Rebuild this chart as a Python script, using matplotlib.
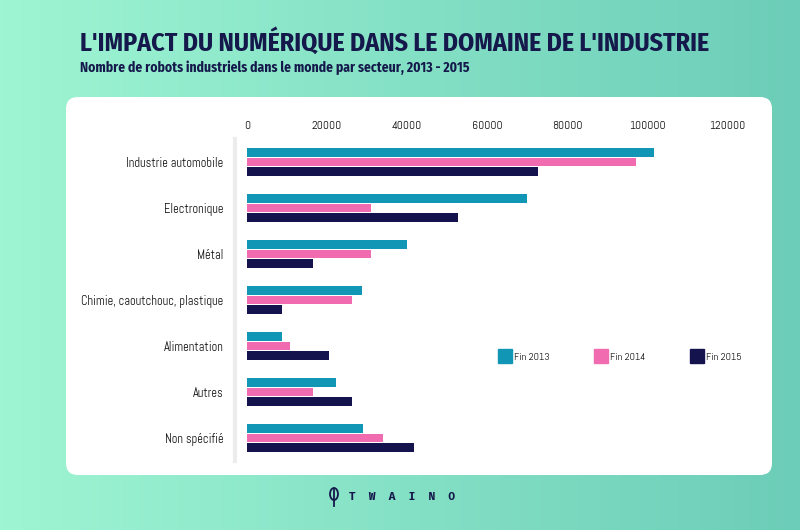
import numpy as np
import matplotlib
matplotlib.use("Agg")
import matplotlib.pyplot as plt
from matplotlib.patches import FancyBboxPatch, Ellipse
from matplotlib.lines import Line2D
from matplotlib import font_manager

categories = ["Industrie automobile", "Electronique", "Métal",
              "Chimie, caoutchouc, plastique", "Alimentation", "Autres",
              "Non spécifié"]
fin2013 = [101700, 70000, 40000, 28700, 8700, 22200, 29000]
fin2014 = [97200, 31000, 31000, 26200, 10700, 16500, 34000]
fin2015 = [72700, 52700, 16500, 8700, 20500, 26200, 41700]
series_labels = ["Fin 2013", "Fin 2014", "Fin 2015"]
xticks = [0, 20000, 40000, 60000, 80000, 100000, 120000]

colors = ["#1296b6", "#f16bb0", "#14134d"]
navy = "#14184a"

names = {f.name for f in font_manager.fontManager.ttflist}
def pick(*cands):
    for c in cands:
        if c in names:
            return c
    return "DejaVu Sans"
title_font = pick("Fira Sans Condensed", "PT Sans Narrow", "Roboto Condensed")
tick_font = pick("Abel", "Dosis", "Lato")
mono_font = pick("Fira Mono", "DejaVu Sans Mono")

fig = plt.figure(figsize=(8, 5.3), dpi=100)

# background gradient
bg = fig.add_axes([0, 0, 1, 1], zorder=-10)
grad = np.linspace(0, 1, 256)[None, :]
c0 = np.array([158, 245, 211]) / 255
c1 = np.array([108, 205, 184]) / 255
img = c0[None, None, :] * (1 - grad[..., None]) + c1[None, None, :] * grad[..., None]
bg.imshow(img, extent=[0, 800, 530, 0], aspect="auto")
bg.set_xlim(0, 800)
bg.set_ylim(530, 0)
bg.axis("off")
panel = FancyBboxPatch((66, 97), 706, 378, boxstyle="round,pad=0,rounding_size=12",
                       facecolor="white", edgecolor="none")
bg.add_patch(panel)

fig.text(80 / 800, 1 - 42 / 530, "L'IMPACT DU NUMÉRIQUE DANS LE DOMAINE DE L'INDUSTRIE",
         fontsize=18.6, fontweight="bold", color=navy, family=title_font, va="center", ha="left")
fig.text(80 / 800, 1 - 68 / 530, "Nombre de robots industriels dans le monde par secteur, 2013 - 2015",
         fontsize=9.8, fontweight="bold", color=navy, family=title_font, va="center", ha="left")

# logo
bg.add_patch(Ellipse((334, 494), 8, 12, facecolor="none", edgecolor=navy, lw=1.3))
bg.plot([334, 334], [490, 506], color=navy, lw=1.3)
fig.text(402 / 800, 1 - 497 / 530, "T  W  A  I  N  O", fontsize=8, color=navy,
         family=mono_font, ha="center", va="center", fontweight="bold")

ax = fig.add_axes([247 / 800, 1 - 461 / 530, 480 / 800, 322 / 530])
for s in ["top", "right", "bottom"]:
    ax.spines[s].set_visible(False)
ax.spines["left"].set_position(("outward", 9))
ax.spines["left"].set_color("#ececec")
ax.spines["left"].set_linewidth(3)
ax.set_facecolor("none")

y = np.arange(len(categories))
h = 0.195
off = 0.205
for i, (vals, col, lab) in enumerate(zip([fin2013, fin2014, fin2015], colors, series_labels)):
    ax.barh(y + (i - 1) * off, vals, height=h, color=col, label=lab, zorder=3)

ax.set_xlim(0, 120000)
ax.set_ylim(len(categories) - 0.5, -0.5)
ax.xaxis.tick_top()
ax.set_yticks(y)
ax.set_yticklabels(categories, family=tick_font)
ax.set_xticks(xticks)
ax.set_xticklabels([str(t) for t in xticks], family=tick_font)
ax.tick_params(axis="x", length=0, pad=6, labelsize=8.5, labelcolor="#111111")
ax.tick_params(axis="y", length=0, pad=8, labelsize=9, labelcolor="#111111")

handles = [Line2D([], [], marker="s", linestyle="none", markersize=10,
                  markerfacecolor=c, markeredgecolor=c) for c in colors]
leg = fig.legend(handles, series_labels, loc="center", ncol=3,
                 bbox_to_anchor=(620 / 800, 1 - 357 / 530), frameon=False,
                 fontsize=7.5, columnspacing=4.3, handletextpad=0.3, handlelength=1.2)
for t in leg.get_texts():
    t.set_family(tick_font)
    t.set_color("#111111")

fig.savefig("out.png", dpi=100)
